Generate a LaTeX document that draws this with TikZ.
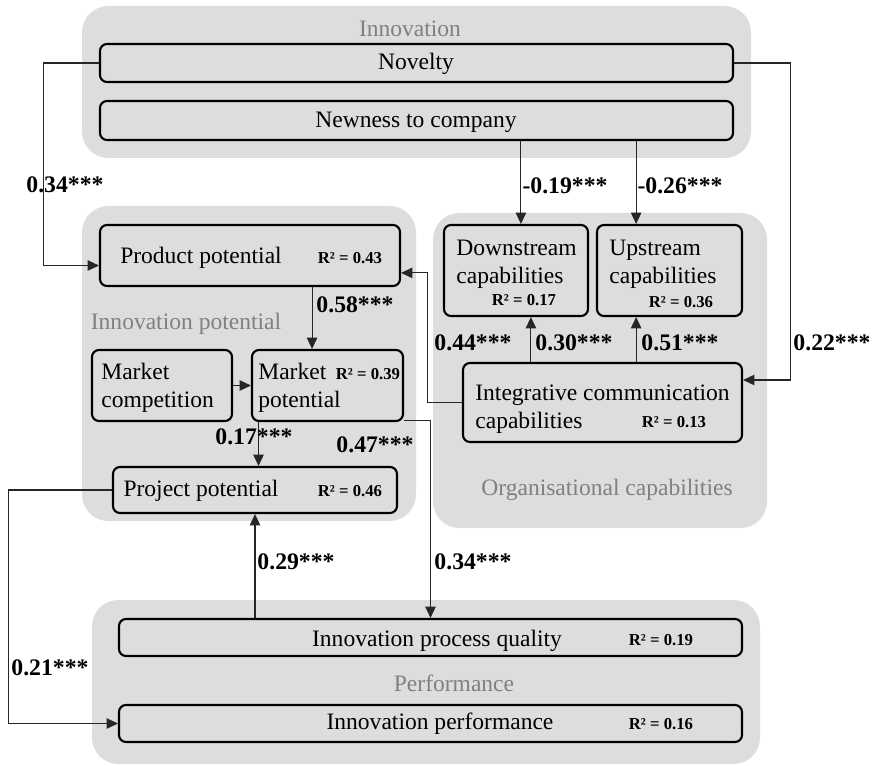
\documentclass[tikz,border=0pt]{standalone}
\usepackage{fontspec}
\setmainfont{Liberation Serif}
\usetikzlibrary{arrows.meta,fit}

\definecolor{groupbg}{RGB}{220,221,223}
\definecolor{grouptext}{RGB}{128,128,128}

\tikzset{
  group/.style={fill=groupbg, rounded corners=15pt},
  box/.style={draw, line width=1.2pt, rounded corners=4pt, inner sep=0pt},
  txt/.style={font=\fontsize{13.4}{16}\selectfont, inner sep=0pt},
  gtxt/.style={txt, text=grouptext},
  rsq/.style={font=\bfseries\fontsize{9.5}{11}\selectfont, inner sep=0pt},
  coef/.style={font=\bfseries\fontsize{13.5}{16}\selectfont, inner sep=0pt},
  conn/.style={draw=black!85, line width=0.6pt},
  arr/.style={conn, -{Triangle[length=6.5pt,width=6pt]}}
}

\begin{document}
\begin{tikzpicture}[x=0.02cm, y=-0.02cm]
      \useasboundingbox (0,0) rectangle (872,766);

      % Draw the group areas
      \fill[group] (82,6) rectangle (751,158);
      \fill[group] (82,206) rectangle (416,521);
      \fill[group] (433,213) rectangle (767,528);
      \fill[group] (92,600) rectangle (760,764);

      % Group titles
      \node[gtxt] (tInnov) at (410,29) {Innovation};
      \node[gtxt] (tPot) at (186,324) {Innovation potential};
      \node[gtxt] (tOrg) at (607,490) {Organisational capabilities};
      \node[gtxt] (tPerf) at (454,683) {Performance};

      % Innovation
      \node[box, fit={(100,44) (733,82)}] (novelty) {};
      \node[txt] (noveltyT) at (416,64) {Novelty};
      \node[box, fit={(100,101) (733,140)}] (newness) {};
      \node[txt] (newnessT) at (416,122) {Newness to company};

      % Innovation potential
      \node[box, fit={(100,225) (400,286)}] (prodpot) {};
      \node[txt] (prodpotT) at (201,258) {Product potential};
      \node[rsq] (prodpotR) at (350,258) {R² = 0.43};

      \node[box, fit={(92,350) (232,421)}] (mktcomp) {};
      \node[txt, align=left, anchor=west] (mktcompT) at (101,388) {Market\\competition};

      \node[box, fit={(252,350) (403,421)}] (mktpot) {};
      \node[txt, align=left, anchor=west] (mktpotT) at (258,388) {Market\\potential};
      \node[rsq] (mktpotR) at (368,374) {R² = 0.39};

      \node[box, fit={(113,467) (397,513)}] (projpot) {};
      \node[txt] (projpotT) at (201,491) {Project potential};
      \node[rsq] (projpotR) at (350,491) {R² = 0.46};

      % Organisational capabilities
      \node[box, fit={(444,225) (588,316)}] (down) {};
      \node[txt, align=left, anchor=west] (downT) at (456,264) {Downstream\\capabilities};
      \node[rsq] (downR) at (524,300) {R² = 0.17};

      \node[box, fit={(597,225) (742,316)}] (up) {};
      \node[txt, align=left, anchor=west] (upT) at (609,264) {Upstream\\capabilities};
      \node[rsq] (upR) at (681,302) {R² = 0.36};

      \node[box, fit={(463,363) (742,442)}] (integ) {};
      \node[txt, align=left, anchor=west] (integT) at (475,409) {Integrative communication\\capabilities};
      \node[rsq] (integR) at (674,422) {R² = 0.13};

      % Performance
      \node[box, fit={(119,619) (742,656)}] (ipq) {};
      \node[txt] (ipqT) at (437,641) {Innovation process quality};
      \node[rsq] (ipqR) at (661,640) {R² = 0.19};

      \node[box, fit={(119,705) (742,742)}] (iperf) {};
      \node[txt] (iperfT) at (440,724) {Innovation performance};
      \node[rsq] (iperfR) at (661,724) {R² = 0.16};

      % Attachment points of the straight arrows
      \coordinate (dnIn) at ([xshift=2.8pt]down.north);
      \coordinate (dnOut) at ([xshift=8.5pt]down.south);
      \coordinate (upIn) at ([xshift=-19pt]up.north);
      \coordinate (upOut) at ([xshift=-19pt]up.south);
      \coordinate (mpIn) at ([xshift=-8.8pt]mktpot.north);
      \coordinate (ppIn) at ([xshift=2pt]projpot.north);

      % Draw the paths
      \draw[arr] (novelty.west) -- ++(-55,0) |- ([yshift=-5.7pt]prodpot.west);
      \draw[arr] (novelty.east) -- ++(56,0) |- ([yshift=12.8pt]integ.east);
      \draw[arr] (dnIn |- newness.south) -- (dnIn);
      \draw[arr] (upIn |- newness.south) -- (upIn);
      \draw[arr] (dnOut |- integ.north) -- (dnOut);
      \draw[arr] (upOut |- integ.north) -- (upOut);
      \draw[arr] (integ.west) -- ++(-34,0) |- ([yshift=-9.9pt]prodpot.east);
      \draw[arr] (mpIn |- prodpot.south) -- (mpIn);
      \draw[arr] (mktcomp.east) -- (mktpot.west);
      \draw[arr] (ppIn |- mktpot.south) -- (ppIn);
      \draw[arr] ([yshift=1pt]mktpot.south east) -| (ipq.north);
      \draw[arr] (projpot.west) -- ++(-103,0) |- (iperf.west);
      \draw[arr] (projpot.south |- ipq.north) -- (projpot.south);

      % Path coefficients
      \node[coef] (cNovProd) at (65,185) {0.34***};
      \node[coef] (cNovInt) at (832,343) {0.22***};
      \node[coef] (cNewDown) at (565,186) {-0.19***};
      \node[coef] (cNewUp) at (680,186) {-0.26***};
      \node[coef] (cIntProd) at (473,343) {0.44***};
      \node[coef] (cIntDown) at (574,343) {0.30***};
      \node[coef] (cIntUp) at (680,343) {0.51***};
      \node[coef] (cProdMkt) at (355,305) {0.58***};
      \node[coef] (cCompMkt) at (254,437) {0.17***};
      \node[coef] (cMktProj) at (375,445) {0.47***};
      \node[coef] (cMktIpq) at (473,562) {0.34***};
      \node[coef] (cIpqProj) at (296,562) {0.29***};
      \node[coef] (cProjPerf) at (50,668) {0.21***};

\end{tikzpicture}
\end{document}
